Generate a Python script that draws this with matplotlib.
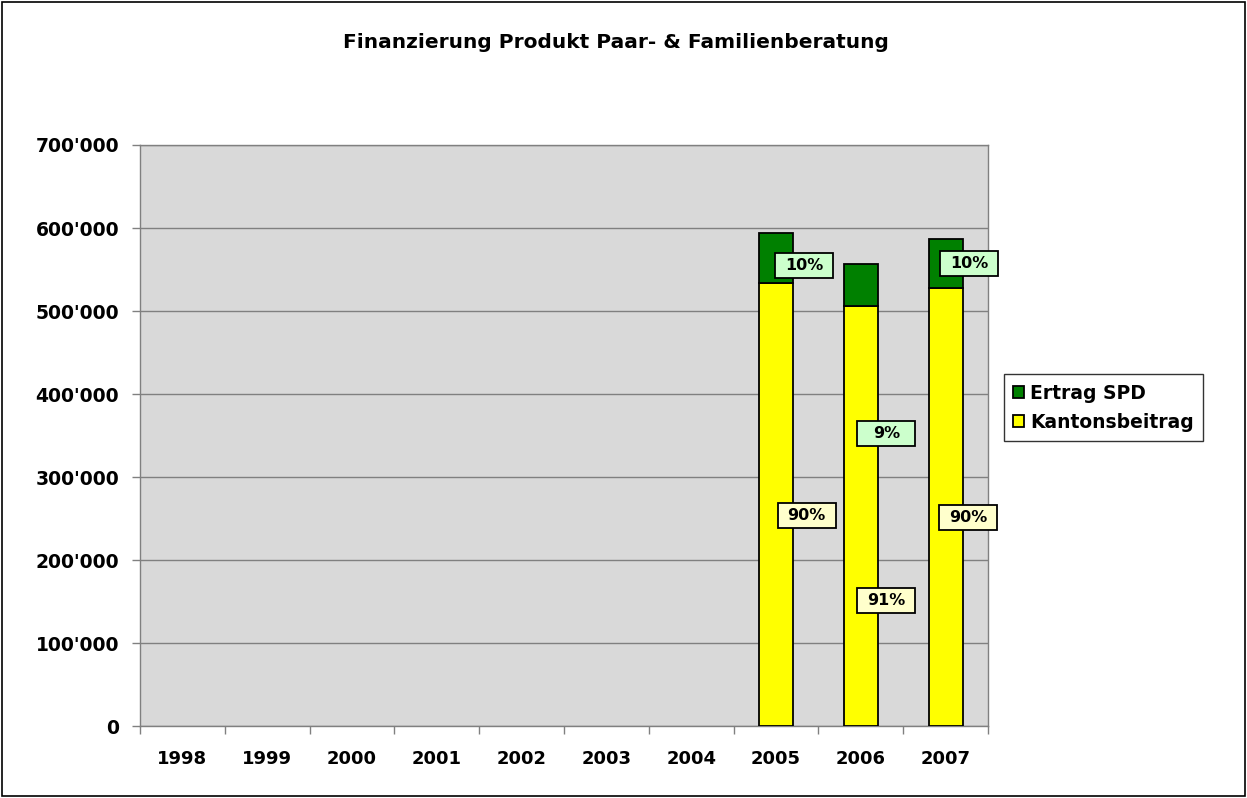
import matplotlib.pyplot as plt
import numpy as np
from matplotlib.ticker import FuncFormatter, FixedLocator, NullFormatter
from matplotlib.transforms import ScaledTranslation

plt.rcParams['font.family'] = ['DejaVu Sans']

years = ['1998', '1999', '2000', '2001', '2002', '2003', '2004', '2005', '2006', '2007']
kantonsbeitrag = [0, 0, 0, 0, 0, 0, 0, 534000, 506000, 528000]
ertrag_spd = [0, 0, 0, 0, 0, 0, 0, 60000, 51000, 59000]

# percentage labels shown for the last three years
label_years = ['2005', '2006', '2007']
pct_kanton = ['90%', '91%', '90%']
pct_ertrag = ['10%', '9%', '10%']
# label anchor positions (layout only: x offset from bar centre, y in data units)
kanton_label_pos = [(0.36, 254000), (0.30, 151000), (0.27, 251000)]
ertrag_label_pos = [(0.33, 555000), (0.30, 352000), (0.28, 557000)]

fig = plt.figure(figsize=(12.47, 7.98), dpi=100)
ax = fig.add_axes([0.1123, 0.0902, 0.6800, 0.7281])
ax.set_facecolor('#D9D9D9')

x = np.arange(len(years))
k = np.array(kantonsbeitrag, dtype=float)
e = np.array(ertrag_spd, dtype=float)
mask = k > 0
ax.bar(x[mask], k[mask], width=0.4, color='#FFFF00', edgecolor='black', linewidth=1.3,
       label='Kantonsbeitrag', zorder=3)
ax.bar(x[mask], e[mask], bottom=k[mask], width=0.4, color='#008000', edgecolor='black',
       linewidth=1.3, label='Ertrag SPD', zorder=3)


def label_box(xpos, ypos, txt, face):
    # fixed-size box like Excel data labels
    tr = fig.dpi_scale_trans + ScaledTranslation(xpos, ypos, ax.transData)
    ax.add_patch(plt.Rectangle((-0.29, -0.125), 0.58, 0.25, transform=tr, facecolor=face,
                               edgecolor='black', linewidth=1.3, zorder=5, clip_on=False))
    ax.text(xpos, ypos, txt, ha='center', va='center', fontsize=11.5, fontweight='bold',
            zorder=6)


for yr, pk, pe, kp, ep in zip(label_years, pct_kanton, pct_ertrag, kanton_label_pos, ertrag_label_pos):
    i = years.index(yr)
    label_box(i + kp[0], kp[1], pk, '#FFFFCC')
    label_box(i + ep[0], ep[1], pe, '#CCFFCC')

ax.set_xlim(-0.5, len(years) - 0.5)
ax.set_ylim(0, 700000)
ax.set_yticks(np.arange(0, 700001, 100000))
ax.yaxis.set_major_formatter(FuncFormatter(lambda v, p: f"{int(v):,}".replace(',', "'")))
ax.grid(axis='y', color='#808080', linewidth=1, zorder=1)
ax.set_axisbelow(True)

ax.xaxis.set_major_locator(FixedLocator(np.arange(len(years) + 1) - 0.5))
ax.xaxis.set_major_formatter(NullFormatter())
ax.xaxis.set_minor_locator(FixedLocator(x))
ax.set_xticklabels(years, minor=True)
ax.tick_params(axis='x', which='minor', length=0, pad=17, labelsize=13)
ax.tick_params(axis='x', which='major', length=6, color='#808080', width=1)
ax.tick_params(axis='y', length=6, color='#808080', width=1, labelsize=13.5, pad=9)
for lbl in ax.get_xticklabels(minor=True) + ax.get_yticklabels():
    lbl.set_fontweight('bold')

for s in ax.spines.values():
    s.set_color('#808080')
    s.set_linewidth(1)

fig.text(0.4936, 1 - 43 / 798, 'Finanzierung Produkt Paar- & Familienberatung', fontsize=14.5,
         fontweight='bold', ha='center', va='center')

handles, labels = ax.get_legend_handles_labels()
leg = fig.legend(handles[::-1], labels[::-1], loc='upper left', bbox_to_anchor=(0.805, 0.531),
                 frameon=True, fancybox=False, edgecolor='black',
                 handlelength=0.6, handleheight=0.6, handletextpad=0.3, labelspacing=0.55,
                 borderpad=0.5, borderaxespad=0, prop={'weight': 'bold', 'size': 13.5})
leg.get_frame().set_linewidth(1)

fig.patches.append(plt.Rectangle((0.002, 0.002), 0.996, 0.996, transform=fig.transFigure,
                                 fill=False, edgecolor='black', linewidth=1.2))

fig.savefig('out.png', dpi=100)
